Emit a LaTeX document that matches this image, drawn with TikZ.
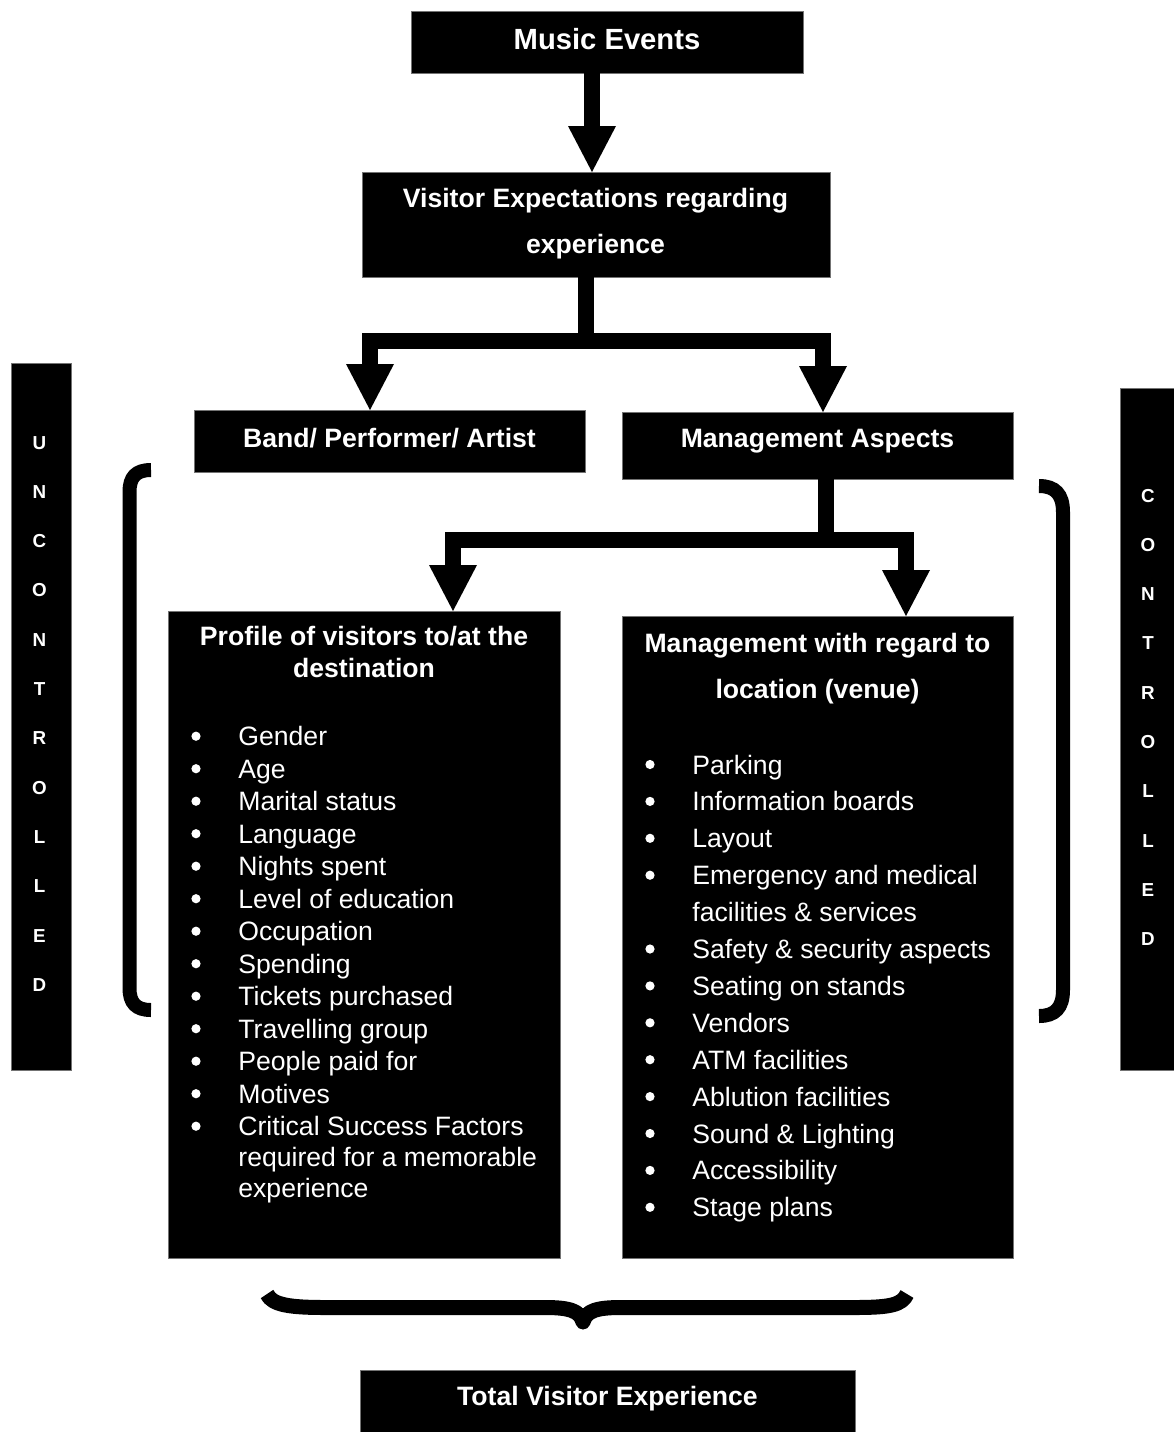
\documentclass[tikz,border=0pt]{standalone}
\usepackage{fontspec}
\setmainfont{Liberation Sans}
\usetikzlibrary{arrows.meta}
\begin{document}
\begin{tikzpicture}[x=0.5pt,y=-0.5pt,
  box/.style={fill=black, draw=black!55, line width=0.4pt, inner sep=0pt, outer sep=0pt},
  ttl/.style={text=white, font=\bfseries\fontsize{13.3}{16}\selectfont, inner sep=0pt, anchor=base},
  itm/.style={text=white, font=\fontsize{13.3}{16}\selectfont, inner sep=0pt, anchor=base west},
  bul/.style={circle, fill=white, inner sep=0pt, minimum size=4.6pt},
  sideltr/.style={text=white, font=\bfseries\fontsize{9.4}{11}\selectfont, inner sep=0pt, anchor=base},
  flow/.style={line width=8pt, -{Triangle[width=24pt,length=23pt,line width=0pt]}},
  bar/.style={line width=8pt},
  brk/.style={line width=7pt}]
\useasboundingbox (0,0) rectangle (1174,1432);

% boxes
\node[box, minimum width=196pt, minimum height=31pt] (me) at (607,42) {};
\node[box, minimum width=234pt, minimum height=52.5pt] (ve) at (596,224.5) {};
\node[box, minimum width=195.5pt, minimum height=31pt] (band) at (389.5,441) {};
\node[box, minimum width=195.5pt, minimum height=33.5pt] (ma) at (817.5,445.5) {};
\node[box, minimum width=196pt, minimum height=323.5pt] (prof) at (364,934.5) {};
\node[box, minimum width=195.5pt, minimum height=321pt] (mloc) at (817.5,937) {};
\node[box, minimum width=247.5pt, minimum height=31pt] (total) at (607.5,1401) {};
\node[box, minimum width=30pt, minimum height=353.5pt] (unc) at (41,716.5) {};
\node[box, minimum width=27pt, minimum height=341pt] (con) at (1147,729) {};

% titles
\node[ttl, font=\bfseries\fontsize{14.6}{17}\selectfont] (met) at (607,49) {Music Events};
\node[ttl] (vet1) at (595.5,207) {Visitor Expectations regarding};
\node[ttl] (vet2) at (595.5,253.5) {experience};
\node[ttl] (bandt) at (389.5,447) {Band/ Performer/ Artist};
\node[ttl] (mat) at (817.5,447) {Management Aspects};
\node[ttl] (proft1) at (364,645.7) {Profile of visitors to/at the};
\node[ttl] (proft2) at (364,677.3) {destination};
\node[ttl] (mloct1) at (817.5,652.7) {Management with regard to};
\node[ttl] (mloct2) at (817.5,698) {location (venue)};
\node[ttl] (totalt) at (607.5,1405.7) {Total Visitor Experience};

% side letters
\foreach \l [count=\i from 0] in {U,N,C,O,N,T,R,O,L,L,E,D}
  \node[sideltr] (u\i) at (39.5,{449+49.3*\i}) {\l};
\foreach \l [count=\i from 0] in {C,O,N,T,R,O,L,L,E,D}
  \node[sideltr] (c\i) at (1148,{502+49.3*\i}) {\l};

% profile list
\foreach \t [count=\i from 0] in {Gender,Age,Marital status,Language,Nights spent,Level of education,Occupation,Spending,Tickets purchased,Travelling group,People paid for,Motives,Critical Success Factors}{
  \node[bul] (pb\i) at (196,{745.7+32.5*\i-9.5}) {};
  \node[itm] (pi\i) at (238,{745.7+32.5*\i}) {\t};
}
\node[itm] (pc2) at (238,1166.5) {required for a memorable};
\node[itm] (pc3) at (238,1197) {experience};

% management list
\foreach \t/\y [count=\i from 0] in {Parking/0,Information boards/1,Layout/2,Emergency and medical/3,Safety \& security aspects/5,Seating on stands/6,Vendors/7,ATM facilities/8,Ablution facilities/9,Sound \& Lighting/10,Accessibility/11,Stage plans/12}{
  \node[bul] (mb\i) at (650,{774+36.9*\y-9.5}) {};
  \node[itm] (mi\i) at (692,{774+36.9*\y}) {\t};
}
\node[itm] (me2) at (692,{774+36.9*4}) {facilities \& services};

% connectors
\draw[flow] (592,0 |- me.south) -- (592,0 |- ve.north);
\coordinate (j1) at (586,341);
\draw[bar] (586,0 |- ve.south) -- (j1);
\draw[flow] (j1) -| (370,0 |- band.north);
\draw[flow] (j1) -| (823,0 |- ma.north);
\coordinate (j2) at (826,540);
\draw[bar] (826,0 |- ma.south) -- (j2);
\draw[flow] (j2) -| (453,0 |- prof.north);
\draw[flow] (j2) -| (906,0 |- mloc.north);

% brackets
\draw[brk] (151,470) .. controls (136,470) and (129.5,477) .. (129.5,492) -- (129.5,988) .. controls (129.5,1003) and (136,1010) .. (151,1010);
\draw[brk] (1039,486) .. controls (1055,486) and (1063,494) .. (1063,512) -- (1063,990) .. controls (1063,1008) and (1055,1016) .. (1039,1016);

% bottom brace
\draw[line width=7.5pt, line join=round] (267,1294) .. controls (272,1305) and (290,1307.5) .. (325,1307.5) -- (545,1307.5) .. controls (570,1307.5) and (580,1311) .. (583,1322) .. controls (586,1311) and (596,1307.5) .. (621,1307.5) -- (855,1307.5) .. controls (890,1307.5) and (902,1305) .. (907,1294);
\end{tikzpicture}
\end{document}
